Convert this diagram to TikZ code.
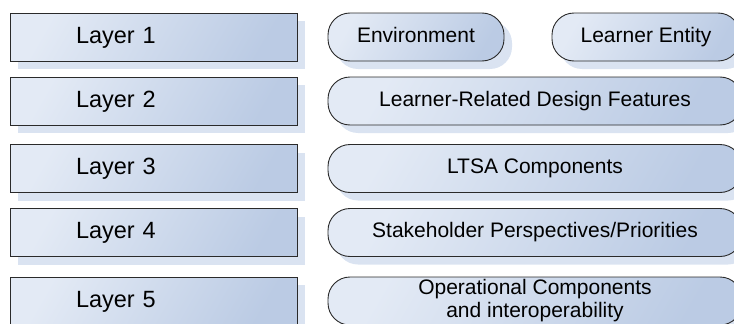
\documentclass[tikz,border=0pt]{standalone}
\usepackage{fontspec}
\setmainfont{Liberation Sans}
\usetikzlibrary{shadows}
\definecolor{boxlight}{HTML}{E3EAF5}
\definecolor{boxmid}{HTML}{CAD6EB}
\definecolor{boxdark}{HTML}{BBCBE4}
\definecolor{boxshadow}{HTML}{DAE3F1}
\definecolor{boxline}{HTML}{2A2A2A}

\begin{document}
\begin{tikzpicture}[
  x=1pt, y=-1pt,
  base/.style={draw=boxline, line width=0.9pt, left color=boxlight, middle color=boxmid,
               right color=boxdark, shading angle=60, minimum height=48pt, inner sep=0pt,
               drop shadow={shadow xshift=8pt, shadow yshift=-8pt, fill=boxshadow, opacity=1}},
  layer/.style={base, minimum width=287pt, text width=155pt, align=left, inner xsep=66pt,
                text height=17pt, text depth=5pt, font=\fontsize{23.5}{28}\selectfont},
  pill/.style={base, rounded corners=22pt, align=center, font=\fontsize{21}{23}\selectfont},
  oneline/.style={text height=15pt, text depth=4.5pt}
]
  \useasboundingbox (0,0) rectangle (734,324);
  \clip (0,0) rectangle (734,324);

  % layer labels
  \node[layer] (layer1) at (153.5,37) {Layer 1};
  \node[layer] (layer2) at (153.5,101) {Layer 2};
  \node[layer] (layer3) at (153.5,168.5) {Layer 3};
  \node[layer] (layer4) at (153.5,232.5) {Layer 4};
  \node[layer] (layer5) at (153.5,301) {Layer 5};

  % contents of each layer
  \node[pill, oneline, minimum width=176pt] (environment) at (416,37) {Environment};
  \node[pill, oneline, minimum width=188pt] (entity) at (646,37) {Learner Entity};
  \node[pill, oneline, minimum width=414pt] (design) at (535,101) {Learner-Related Design Features};
  \node[pill, oneline, minimum width=414pt] (ltsa) at (535,168.5) {LTSA Components};
  \node[pill, oneline, minimum width=414pt] (stakeholder) at (535,232.5) {Stakeholder Perspectives/Priorities};
  \node[pill, minimum width=414pt] (operational) at (535,301) {Operational Components\\and interoperability};
\end{tikzpicture}
\end{document}
